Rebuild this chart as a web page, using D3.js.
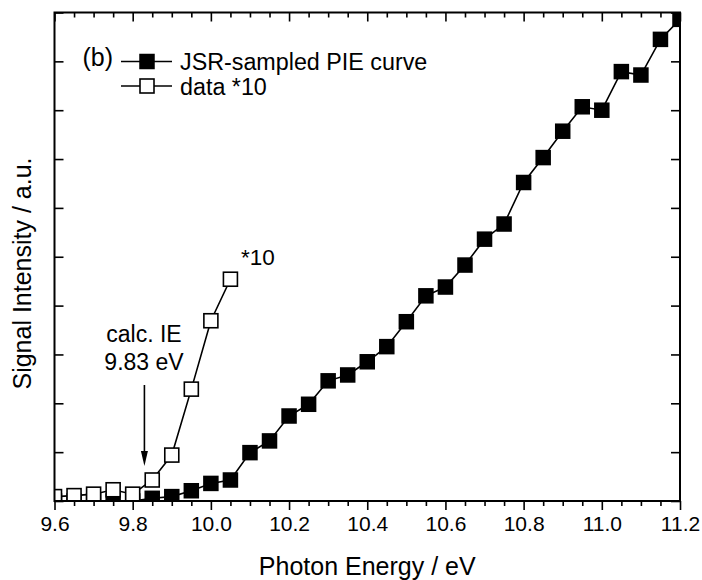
<!DOCTYPE html>
<html>
<head>
<meta charset="utf-8">
<script src="https://cdn.jsdelivr.net/npm/d3@7"></script>
<style>
  html, body { margin: 0; padding: 0; background: #fff; }
  svg { display: block; }
  text { font-family: Arial, "Liberation Sans", sans-serif; fill: #000; }
</style>
</head>
<body>
<svg id="chart" width="702" height="580"></svg>
<script>
// ---- data ----
const pieEnergy = [9.60, 9.65, 9.70, 9.75, 9.80, 9.85, 9.90, 9.95, 10.00, 10.05, 10.10, 10.15, 10.20, 10.25, 10.30, 10.35, 10.40, 10.45, 10.50, 10.55, 10.60, 10.65, 10.70, 10.75, 10.80, 10.85, 10.90, 10.95, 11.00, 11.05, 11.10, 11.15, 11.20];
const pieSignal = [0.00, 0.00, 0.00, 0.00, 0.00, 0.055, 0.09, 0.21, 0.36, 0.43, 0.99, 1.23, 1.74, 1.98, 2.46, 2.58, 2.85, 3.16, 3.67, 4.20, 4.38, 4.83, 5.36, 5.67, 6.52, 7.03, 7.57, 8.07, 8.00, 8.79, 8.72, 9.45, 9.86];
const dataEnergy = [9.60, 9.65, 9.70, 9.75, 9.80, 9.85, 9.90, 9.95, 10.00, 10.05];
const dataSignal = [0.09, 0.11, 0.14, 0.23, 0.14, 0.43, 0.94, 2.29, 3.69, 4.54];
const xTickLabels = ["9.6", "9.8", "10.0", "10.2", "10.4", "10.6", "10.8", "11.0", "11.2"];
const xMajorTicks = [9.6, 9.8, 10.0, 10.2, 10.4, 10.6, 10.8, 11.0, 11.2];
const yTicks = [0, 1, 2, 3, 4, 5, 6, 7, 8, 9, 10];
const legendLabels = ["JSR-sampled PIE curve", "data *10"];
const ieValue = 9.83;

// ---- layout ----
const L = 54.5, R = 680, T = 12.5, B = 501;
const svg = d3.select("#chart");
const x = d3.scaleLinear().domain([9.6, 11.2]).range([L, R]);
const y = d3.scaleLinear().domain([0, 10]).range([B, T]);

const xMinor = d3.range(0, 33).map(i => 9.6 + i * 0.05).filter(v => !xMajorTicks.some(m => Math.abs(m - v) < 1e-6));

svg.append("defs").append("clipPath").attr("id", "clip")
  .append("rect").attr("x", L).attr("y", T).attr("width", R - L).attr("height", B - T);

const plot = svg.append("g").attr("clip-path", "url(#clip)");

const line = d3.line().x(d => x(d[0])).y(d => y(d[1]));
const pie = pieEnergy.map((e, i) => [e, pieSignal[i]]);
const dat = dataEnergy.map((e, i) => [e, dataSignal[i]]);

// filled series
plot.append("path").datum(pie).attr("d", line)
  .attr("fill", "none").attr("stroke", "#000").attr("stroke-width", 1.6);
const fs = 15.5;
plot.selectAll("rect.f").data(pie).enter().append("rect")
  .attr("class", "f")
  .attr("x", d => x(d[0]) - fs / 2).attr("y", d => y(d[1]) - fs / 2)
  .attr("width", fs).attr("height", fs).attr("fill", "#000");

// open series
plot.append("path").datum(dat).attr("d", line)
  .attr("fill", "none").attr("stroke", "#000").attr("stroke-width", 1.6);
const os = 14;
plot.selectAll("rect.o").data(dat).enter().append("rect")
  .attr("class", "o")
  .attr("x", d => x(d[0]) - os / 2).attr("y", d => y(d[1]) - os / 2)
  .attr("width", os).attr("height", os)
  .attr("fill", "#fff").attr("stroke", "#000").attr("stroke-width", 1.6);

// ---- axes ----
const bottom = svg.append("g").attr("transform", `translate(0,${B})`)
  .call(d3.axisBottom(x).tickValues(xMajorTicks).tickFormat((d, i) => xTickLabels[i]).tickSize(9).tickPadding(6));
svg.append("g").attr("transform", `translate(0,${B})`)
  .call(d3.axisBottom(x).tickValues(xMinor).tickFormat("").tickSize(5))
  .call(g => g.select(".domain").remove());
svg.append("g").attr("transform", `translate(0,${T})`)
  .call(d3.axisBottom(x).tickValues(xMajorTicks).tickFormat("").tickSize(9))
  .call(g => g.select(".domain").remove());
svg.append("g").attr("transform", `translate(0,${T})`)
  .call(d3.axisBottom(x).tickValues(xMinor).tickFormat("").tickSize(5))
  .call(g => g.select(".domain").remove());
svg.append("g").attr("transform", `translate(${L},0)`)
  .call(d3.axisRight(y).tickValues(yTicks).tickFormat("").tickSize(9))
  .call(g => g.select(".domain").remove());
svg.append("g").attr("transform", `translate(${R},0)`)
  .call(d3.axisLeft(y).tickValues(yTicks).tickFormat("").tickSize(9))
  .call(g => g.select(".domain").remove());

svg.selectAll(".tick line").attr("stroke", "#000").attr("stroke-width", 1.6);
bottom.select(".domain").remove();
bottom.selectAll(".tick text").attr("font-size", 21).attr("fill", "#000")
  .style("font-family", "Arial, 'Liberation Sans', sans-serif");

// frame
svg.append("rect").attr("x", L).attr("y", T).attr("width", R - L).attr("height", B - T)
  .attr("fill", "none").attr("stroke", "#000").attr("stroke-width", 2);

// axis titles
svg.append("text").attr("x", (L + R) / 2).attr("y", 575).attr("text-anchor", "middle")
  .attr("font-size", 25).text("Photon Energy / eV");
svg.append("text").attr("transform", `translate(31,${273.5}) rotate(-90)`).attr("text-anchor", "middle")
  .attr("font-size", 25).text("Signal Intensity / a.u.");

// legend
const lg = svg.append("g");
lg.append("text").attr("x", 82.5).attr("y", 66).attr("font-size", 25).text("(b)");
const rowsY = [61.5, 86];
lg.selectAll("line.l").data(rowsY).enter().append("line")
  .attr("x1", 121).attr("x2", 172).attr("y1", d => d).attr("y2", d => d)
  .attr("stroke", "#000").attr("stroke-width", 1.6);
lg.append("rect").attr("x", 147 - fs / 2).attr("y", rowsY[0] - fs / 2).attr("width", fs).attr("height", fs).attr("fill", "#000");
lg.append("rect").attr("x", 147 - os / 2).attr("y", rowsY[1] - os / 2).attr("width", os).attr("height", os)
  .attr("fill", "#fff").attr("stroke", "#000").attr("stroke-width", 1.6);
lg.selectAll("text.t").data(legendLabels).enter().append("text")
  .attr("x", 180).attr("y", (d, i) => rowsY[i] + 8.5).attr("font-size", 23.3).text(d => d);

// annotations
svg.append("text").attr("x", 241).attr("y", 265).attr("font-size", 22.5).text("*10");
svg.append("text").attr("x", 144).attr("y", 342).attr("text-anchor", "middle").attr("font-size", 23).text("calc. IE");
svg.append("text").attr("x", 144).attr("y", 370).attr("text-anchor", "middle").attr("font-size", 23).text("9.83 eV");

// arrow
const ax = x(ieValue);
svg.append("line").attr("x1", ax).attr("x2", ax).attr("y1", 385).attr("y2", 453)
  .attr("stroke", "#000").attr("stroke-width", 1.6);
svg.append("path").attr("d", `M${ax - 3.5},451 L${ax + 3.5},451 L${ax},466 Z`).attr("fill", "#000");
</script>
</body>
</html>
